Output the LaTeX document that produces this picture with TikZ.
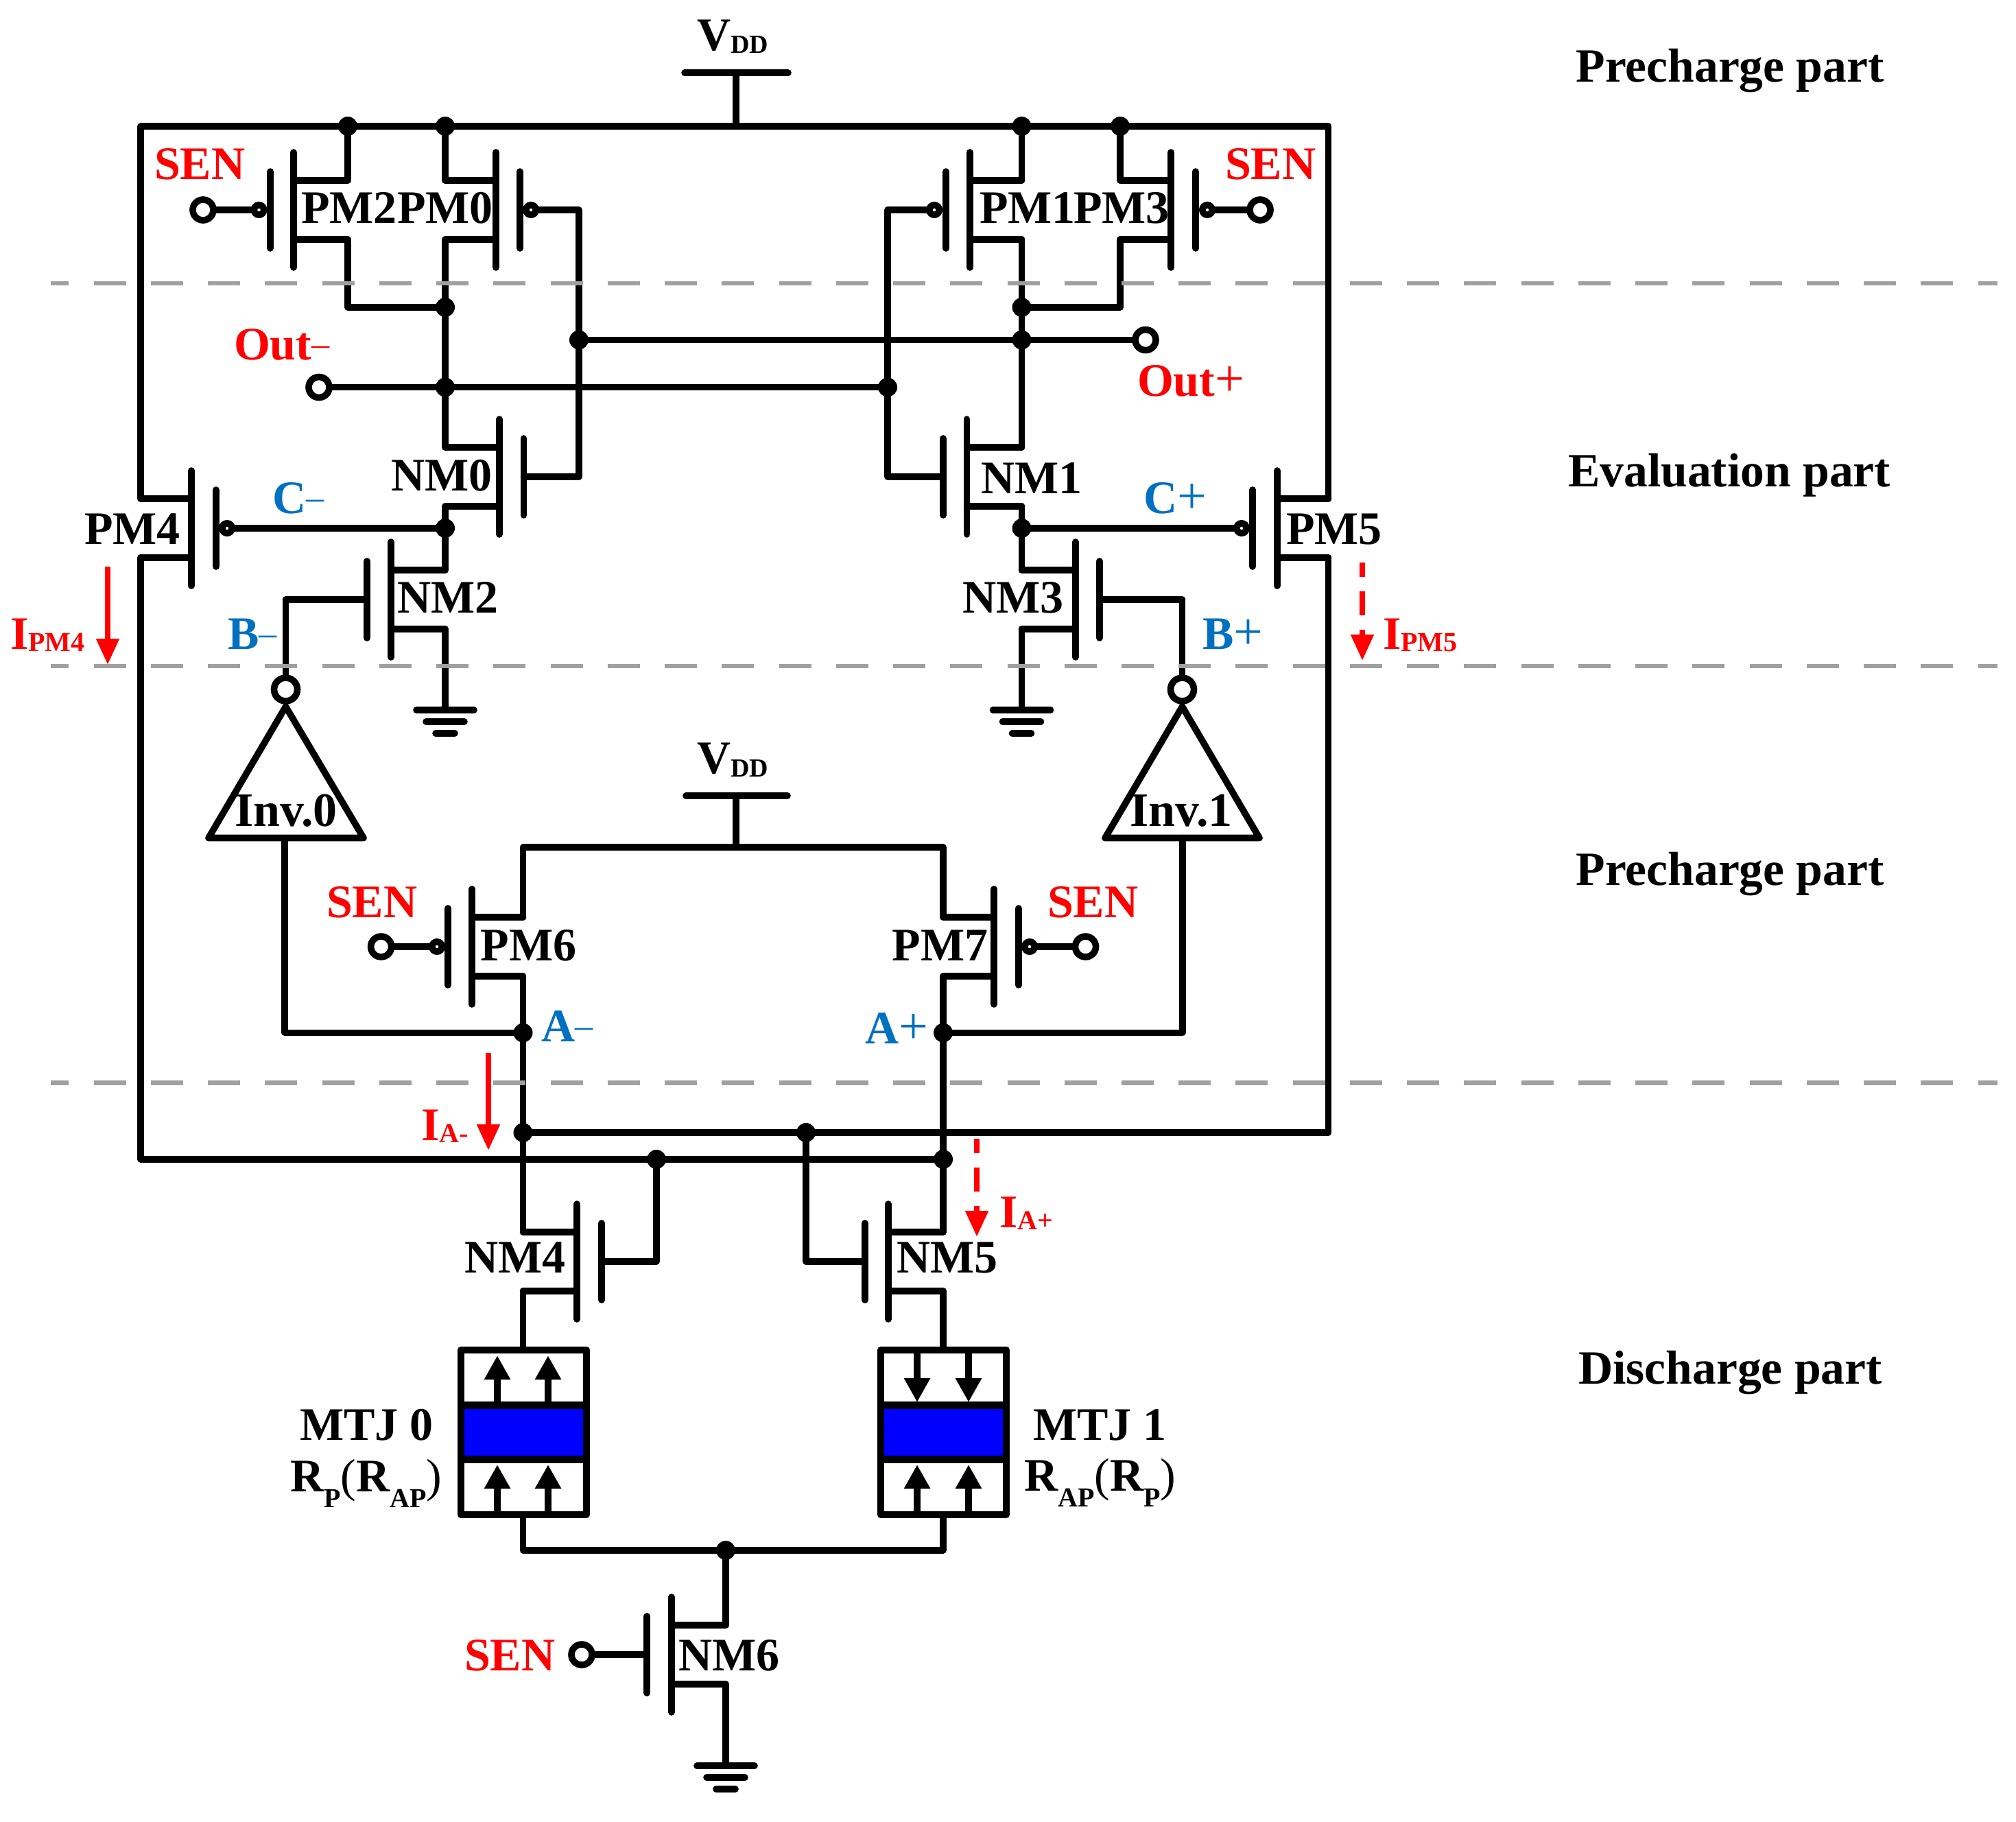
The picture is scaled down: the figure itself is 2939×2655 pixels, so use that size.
\documentclass[tikz,border=0pt]{standalone}
\usepackage{fontspec}
\setmainfont{Liberation Serif}
\usetikzlibrary{arrows.meta}
\definecolor{sred}{HTML}{FF0000}
\definecolor{sblue}{HTML}{0070C0}
\definecolor{sgrey}{HTML}{A0A0A0}
\definecolor{mblue}{HTML}{0000FF}
\tikzset{
  wire/.style={line width=2.4pt,line cap=round,line join=round,black},
  lead/.style={line width=2.4pt,line cap=butt,black},
  dot/.style={circle,fill=black,inner sep=0pt,outer sep=0pt,minimum size=7pt},
  term/.style={circle,draw=black,fill=white,line width=2.4pt,inner sep=0pt,outer sep=0pt,minimum size=7.5pt},
  bubb/.style={circle,draw=black,fill=white,line width=2.4pt,inner sep=0pt,outer sep=0pt,minimum size=3.6pt},
  invb/.style={circle,draw=black,fill=white,line width=2.4pt,inner sep=0pt,outer sep=0pt,minimum size=8.5pt},
  lab/.style={anchor=base west,inner sep=0pt,outer sep=0pt,font=\fontsize{17}{20}\selectfont\bfseries},
  invl/.style={lab,font=\fontsize{17.5}{20}\selectfont\bfseries},
  part/.style={lab,font=\fontsize{17.4}{20}\selectfont\bfseries},
  divider/.style={sgrey,line width=1.7pt,dash pattern=on 11.75pt off 9.06pt,dash phase=5.15pt},
  cur/.style={sred,line width=2pt,-{Triangle[length=9.5pt,width=8pt]}},
  curd/.style={cur,dash pattern=on 8.75pt off 5.25pt,dash phase=3.5pt},
  mtjbox/.style={line width=2.7pt,line join=round,black},
  mtja/.style={line width=2.3pt,black,-{Triangle[length=8.75pt,width=9pt]}},
}
% name, channel x, centre y, gate x, outer wire x
\newcommand{\mosdev}[5]{%
  \coordinate (#1s) at (#5,#3-43);
  \coordinate (#1d) at (#5,#3+43);
  \coordinate (#1g) at (#4,#3);
  \draw[wire] (#2,#3-84) -- (#2,#3+84);
  \draw[wire] (#4,#3-56) -- (#4,#3+56);
  \draw[wire] (#2,#3-43) -- (#1s);
  \draw[wire] (#2,#3+43) -- (#1d);
}
\newcommand{\groundsym}[3]{% name, x, y
  \coordinate (#1) at (#2,#3);
  \draw[wire] (#2-42,#3) -- (#2+42,#3);
  \draw[wire] (#2-28,#3+17) -- (#2+28,#3+17);
  \draw[wire] (#2-14,#3+34) -- (#2+14,#3+34);
}
\newcommand{\sbs}[2][-0.75pt]{\raisebox{#1}{\fontsize{10}{12}\selectfont #2}}
\newcommand{\sbd}[1]{\raisebox{-1.25pt}{\fontsize{9.5}{12}\selectfont #1}}
\newcommand{\pls}{{\mdseries\fontsize{19}{19}\selectfont +}}
\newcommand{\mns}{\raisebox{1.3pt}{\mdseries\fontsize{13}{13}\selectfont –}}
\newcommand{\sgn}[1]{{\mdseries #1}}
\begin{document}
\begin{tikzpicture}[x=0.25pt,y=-0.25pt]
\fill[white] (0,0) rectangle (2939,2655);
\useasboundingbox (0,0) rectangle (2939,2655);

% transistors
\mosdev{PM2}{428}{306}{394}{507}
\mosdev{PM0}{723}{306}{758}{649}
\mosdev{PM1}{1414}{306}{1379}{1489.5}
\mosdev{PM3}{1707}{306}{1743}{1633}
\mosdev{NM0}{728}{695}{763.5}{649}
\mosdev{NM1}{1409.5}{695}{1375}{1489.5}
\mosdev{PM4}{279}{770}{315}{205}
\mosdev{PM5}{1862}{770}{1826}{1936.5}
\mosdev{NM2}{570}{874}{535}{649}
\mosdev{NM3}{1568}{874}{1603}{1489.5}
\mosdev{PM6}{688}{1380}{653}{762.5}
\mosdev{PM7}{1449}{1380}{1485}{1375}
\mosdev{NM4}{841}{1839}{877}{762.5}
\mosdev{NM5}{1295}{1839}{1261}{1375}
\mosdev{NM6}{979}{2412}{943}{1058}

% junctions
\node[dot] (d1) at (507,184) {};
\node[dot] (d2) at (649,184) {};
\node[dot] (d3) at (1489.5,184) {};
\node[dot] (d4) at (1633,184) {};
\node[dot] (d5) at (649,448) {};
\node[dot] (d6) at (649,564.5) {};
\node[dot] (d7) at (649,770) {};
\node[dot] (d8) at (844,495.5) {};
\node[dot] (d9) at (1489.5,495.5) {};
\node[dot] (d10) at (1294,564.5) {};
\node[dot] (d11) at (1489.5,448) {};
\node[dot] (d12) at (1489.5,770) {};
\node[dot] (am) at (762.5,1505.5) {};
\node[dot] (ap) at (1375,1505.5) {};
\node[dot] (w1a) at (762.5,1651) {};
\node[dot] (w1b) at (1175,1651) {};
\node[dot] (w2a) at (957,1690) {};
\node[dot] (w2b) at (1375,1690) {};
\node[dot] (bj) at (1058,2260) {};

% supplies
\coordinate (vddL) at (998,106);
\coordinate (vddR) at (1149,106);
\coordinate (vddM) at (1073,106);
\coordinate (vddT) at (1073,184);
\draw[wire] (vddL) -- (vddR);
\draw[wire] (vddM) -- (vddT);
\coordinate (cTL) at (205,184);
\coordinate (cTR) at (1936.5,184);
\draw[wire] (PM4s) -- (cTL) -- (cTR) -- (PM5s);
\draw[wire] (d1.center) -- (PM2s);
\draw[wire] (d2.center) -- (PM0s);
\draw[wire] (d3.center) -- (PM1s);
\draw[wire] (d4.center) -- (PM3s);
\coordinate (vd2L) at (1000,1160);
\coordinate (vd2R) at (1148,1160);
\coordinate (vd2M) at (1073,1160);
\coordinate (vd2T) at (1073,1235);
\coordinate (r2L) at (762.5,1235);
\coordinate (r2R) at (1375,1235);
\draw[wire] (vd2L) -- (vd2R);
\draw[wire] (vd2M) -- (vd2T);
\draw[wire] (PM6s) -- (r2L) -- (r2R) -- (PM7s);

% upper wiring
\coordinate (c2) at (507,448);
\draw[wire] (PM2d) -- (c2) -- (d5.center);
\draw[wire] (PM0d) -- (NM0s);
\draw[wire] (NM0d) -- (NM2s);
\draw[wire] (NM2d) -- (649,1035);
\coordinate (c3) at (1633,448);
\draw[wire] (PM3d) -- (c3) -- (d11.center);
\draw[wire] (PM1d) -- (NM1s);
\draw[wire] (NM1d) -- (NM3s);
\draw[wire] (NM3d) -- (1489.5,1035);
\groundsym{gndA}{649}{1035}
\groundsym{gndB}{1489.5}{1035}

% gate bubbles and terminals
\node[bubb] (bPM2) at (377.5,306) {};
\node[bubb] (bPM0) at (774,306) {};
\node[bubb] (bPM1) at (1362,306) {};
\node[bubb] (bPM3) at (1760,306) {};
\node[bubb] (bPM4) at (331,770) {};
\node[bubb] (bPM5) at (1810,770) {};
\node[bubb] (bPM6) at (637,1380) {};
\node[bubb] (bPM7) at (1501,1380) {};
\node[term] (tPM2) at (296,306) {};
\node[term] (tPM3) at (1837,306) {};
\node[term] (tPM6) at (555.6,1380) {};
\node[term] (tPM7) at (1582.5,1380) {};
\node[term] (tNM6) at (848,2412) {};
\node[term] (tOutP) at (1670,495.5) {};
\node[term] (tOutM) at (465,564.5) {};
\draw[lead] (tPM2) -- (bPM2);
\draw[lead] (tPM3) -- (bPM3);
\draw[lead] (tPM6) -- (bPM6);
\draw[lead] (tPM7) -- (bPM7);
\draw[lead] (tNM6) -- (NM6g);
\draw[lead] (d8.center) -- (tOutP);
\draw[lead] (tOutM) -- (d10.center);
\coordinate (c4) at (844,306);
\coordinate (c5) at (844,695);
\draw[wire] (bPM0) -- (c4) -- (c5) -- (NM0g);
\coordinate (c6) at (1294,306);
\coordinate (c7) at (1294,695);
\draw[wire] (bPM1) -- (c6) -- (c7) -- (NM1g);
\draw[lead] (bPM4) -- (d7.center);
\draw[lead] (d12.center) -- (bPM5);

% inverters
\coordinate (i0L) at (304,1221.5);
\coordinate (i0R) at (530,1221.5);
\coordinate (i0A) at (416.5,1030);
\coordinate (i1L) at (1611,1221.5);
\coordinate (i1R) at (1836,1221.5);
\coordinate (i1A) at (1723.5,1030);
\draw[wire] (i0L) -- (i0A) -- (i0R) -- cycle;
\draw[wire] (i1L) -- (i1A) -- (i1R) -- cycle;
\node[invb] (i0b) at (416.5,1005) {};
\node[invb] (i1b) at (1723.5,1005) {};
\coordinate (c8) at (416.5,874);
\coordinate (c9) at (1723.5,874);
\draw[wire] (NM2g) -- (c8);
\draw[lead] (c8) -- (i0b);
\draw[wire] (NM3g) -- (c9);
\draw[lead] (c9) -- (i1b);
\coordinate (i0in) at (415,1221.5);
\coordinate (i1in) at (1724,1221.5);
\coordinate (c10) at (415,1505.5);
\coordinate (c11) at (1724,1505.5);
\draw[wire] (i0in) -- (c10) -- (am.center);
\draw[wire] (i1in) -- (c11) -- (ap.center);

% lower wiring
\coordinate (m0T) at (762.5,1965);
\coordinate (m1T) at (1375,1965);
\coordinate (m0B) at (762.5,2208);
\coordinate (m1B) at (1375,2208);
\draw[wire] (PM6d) -- (NM4s);
\draw[wire] (PM7d) -- (NM5s);
\coordinate (c12) at (1936.5,1651);
\draw[wire] (w1a.center) -- (c12) -- (PM5d);
\coordinate (c13) at (205,1690);
\draw[wire] (PM4d) -- (c13) -- (w2b.center);
\coordinate (c14) at (957,1839);
\draw[wire] (NM4g) -- (c14) -- (w2a.center);
\coordinate (c15) at (1175,1839);
\draw[wire] (NM5g) -- (c15) -- (w1b.center);
\draw[wire] (NM4d) -- (m0T);
\draw[wire] (NM5d) -- (m1T);
\coordinate (c16) at (762.5,2260);
\coordinate (c17) at (1375,2260);
\draw[wire] (m0B) -- (c16) -- (c17) -- (m1B);
\draw[wire] (bj.center) -- (NM6s);
\draw[wire] (NM6d) -- (1058,2574);
\groundsym{gndC}{1058}{2574}

% MTJ stacks
\fill[mblue] (672,2048) rectangle (855,2128);
\fill[mblue] (1284,2048) rectangle (1467,2128);
\draw[mtja] (725,2044) -- (725,1976);
\draw[mtja] (799,2044) -- (799,1976);
\draw[mtja] (725,2204) -- (725,2135);
\draw[mtja] (799,2204) -- (799,2135);
\draw[mtja] (1337,1972) -- (1337,2044);
\draw[mtja] (1412,1972) -- (1412,2044);
\draw[mtja] (1337,2204) -- (1337,2135);
\draw[mtja] (1412,2204) -- (1412,2135);
\draw[mtjbox] (672,1968) rectangle (855,2208);
\draw[mtjbox] (1284,1968) rectangle (1467,2208);
\draw[mtjbox] (672,2048.5) -- (855,2048.5);
\draw[mtjbox] (672,2127.5) -- (855,2127.5);
\draw[mtjbox] (1284,2048.5) -- (1467,2048.5);
\draw[mtjbox] (1284,2127.5) -- (1467,2127.5);

% part separators
\coordinate (s1a) at (74,413); \coordinate (s1b) at (2912,413);
\coordinate (s2a) at (74,971); \coordinate (s2b) at (2912,971);
\coordinate (s3a) at (74,1578.5); \coordinate (s3b) at (2912,1578.5);
\draw[divider] (s1a) -- (s1b);
\draw[divider] (s2a) -- (s2b);
\draw[divider] (s3a) -- (s3b);

% current arrows
\coordinate (ip4a) at (157,826); \coordinate (ip4b) at (157,969);
\coordinate (ip5a) at (1986,820); \coordinate (ip5b) at (1986,963);
\coordinate (iama) at (712,1535); \coordinate (iamb) at (712,1677);
\coordinate (iapa) at (1424,1660); \coordinate (iapb) at (1424,1803);
\draw[cur] (ip4a) -- (ip4b);
\draw[curd] (ip5a) -- (ip5b);
\draw[cur] (iama) -- (iamb);
\draw[curd] (iapa) -- (iapb);

% device labels
\node[lab] (lPM2) at (439,325) {PM2};
\node[lab] (lPM0) at (579,325) {PM0};
\node[lab] (lPM1) at (1428,325) {PM1};
\node[lab] (lPM3) at (1565,325) {PM3};
\node[lab] (lNM0) at (570,715.5) {NM0};
\node[lab] (lNM1) at (1430,719) {NM1};
\node[lab] (lPM4) at (123,793) {PM4};
\node[lab] (lPM5) at (1875,793) {PM5};
\node[lab] (lNM2) at (579,893) {NM2};
\node[lab] (lNM3) at (1403,893) {NM3};
\node[lab] (lPM6) at (700.7,1400.6) {PM6};
\node[lab] (lPM7) at (1300.6,1400.6) {PM7};
\node[lab] (lNM4) at (677,1855) {NM4};
\node[lab] (lNM5) at (1307,1855) {NM5};
\node[lab] (lNM6) at (989,2435) {NM6};
\node[invl] (lInv0) at (342,1204) {Inv.0};
\node[invl] (lInv1) at (1647,1204) {Inv.1};
\node[lab] (lVdd1) at (1016,73) {V\sbd{DD}};
\node[lab] (lVdd2) at (1016,1127) {V\sbd{DD}};
\node[lab] (lM0) at (437,2099) {MTJ 0};
\node[lab] (lM1) at (1506,2099) {MTJ 1};
\node[lab] (lR0) at (423,2174) {R\sbs[-5.75pt]{P}\sgn{(}R\sbs[-5.75pt]{AP}\sgn{)}};
\node[lab] (lR1) at (1493,2173) {R\sbs[-5.75pt]{AP}\sgn{(}R\sbs[-5.75pt]{P}\sgn{)}};

% signal labels
\node[lab,text=sred] (sen1) at (225,261) {SEN};
\node[lab,text=sred] (sen2) at (1786,261) {SEN};
\node[lab,text=sred] (sen3) at (476,1337) {SEN};
\node[lab,text=sred] (sen4) at (1527,1337) {SEN};
\node[lab,text=sred] (sen5) at (677,2435) {SEN};
\node[lab,text=sred] (lOutM) at (341,524) {Out\mns};
\node[lab,text=sred] (lOutP) at (1658,577) {Out\pls};
\node[lab,text=sblue] (lCm) at (397,748) {C\mns};
\node[lab,text=sblue] (lCp) at (1667,748) {C\pls};
\node[lab,text=sblue] (lBm) at (332,946) {B\mns};
\node[lab,text=sblue] (lBp) at (1753,946) {B\pls};
\node[lab,text=sblue] (lAm) at (789,1518) {A\mns};
\node[lab,text=sblue] (lAp) at (1261.6,1521) {A\pls};
\node[lab,text=sred] (lI4) at (15,946) {I\sbs{PM4}};
\node[lab,text=sred] (lI5) at (2016,946) {I\sbs{PM5}};
\node[lab,text=sred] (lIm) at (614,1662) {I\sbs{A-}};
\node[lab,text=sred] (lIp) at (1457,1789) {I\sbs{A+}};

% part labels
\node[part] (p1) at (2297.5,119) {Precharge part};
\node[part] (p2) at (2286,709) {Evaluation part};
\node[part] (p3) at (2297.5,1290) {Precharge part};
\node[part] (p4) at (2301,2017) {Discharge part};
\end{tikzpicture}
\end{document}
